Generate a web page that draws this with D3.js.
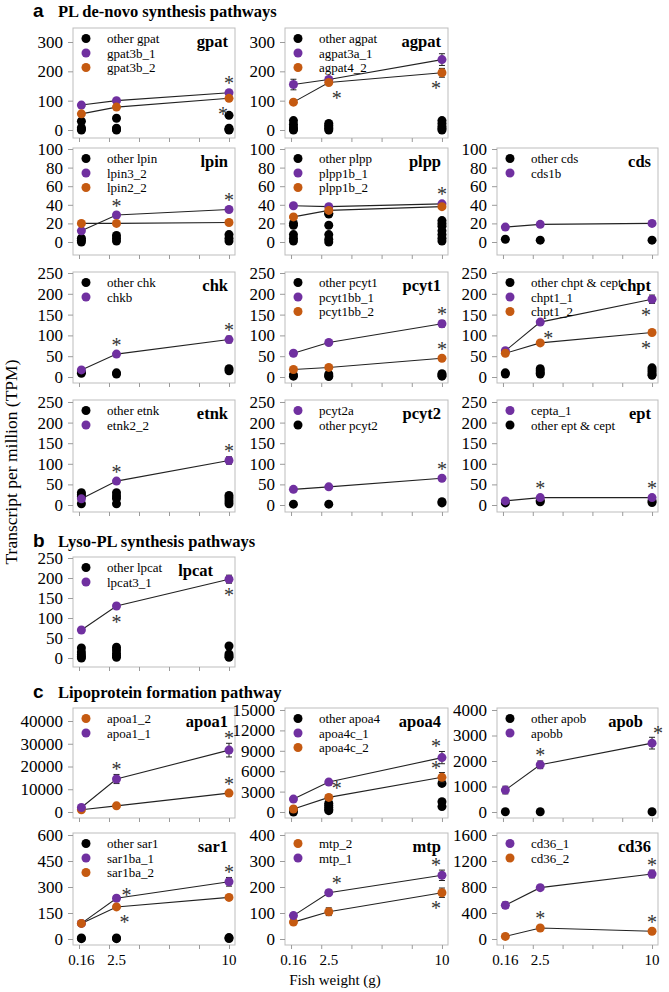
<!DOCTYPE html>
<html><head><meta charset="utf-8">
<script src="https://cdn.jsdelivr.net/npm/d3@7"></script>
<style>body{margin:0;background:#fff}svg{display:block}</style>
</head><body><svg id="c" width="669" height="992"></svg>
<script>
// ---------------- DATA ----------------
const weights = [0.16, 2.5, 10];
const xTickLabels = ["0.16", "2.5", "10"];

// gpat
const other_gpat = [[30, 8, 3, 0], [40, 6, 2, 0], [50, 6, 2, 0]];
const gpat3b_1 = [85, 100, 127], gpat3b_1_err = [6, 4, 6];
const gpat3b_2 = [55, 78, 108], gpat3b_2_err = [4, 4, 5];
// agpat
const other_agpat = [[32, 20, 10, 3, 0], [22, 16, 10, 5, 0], [32, 22, 12, 5, 0]];
const agpat3a_1 = [155, 172, 240], agpat3a_1_err = [18, 6, 20];
const agpat4_2 = [95, 162, 195], agpat4_2_err = [8, 6, 15];
// lpin
const other_lpin = [[4, 2, 0], [7, 4, 1], [8, 4, 1]];
const lpin3_2 = [12, 29, 35], lpin3_2_err = [1, 1, 1];
const lpin2_2 = [20, 20, 21], lpin2_2_err = [1, 1, 1];
// plpp
const other_plpp = [[20, 18, 8, 4, 1], [31, 30, 18, 8, 3, 0], [23, 20, 17, 12, 8, 4, 1]];
const plpp1b_1 = [39, 38, 41], plpp1b_1_err = [1, 1, 1];
const plpp1b_2 = [27, 34, 38], plpp1b_2_err = [1, 3, 1];
// cds
const other_cds = [[3], [2], [2]];
const cds1b = [16, 19, 20], cds1b_err = [1, 1, 1];
// chk
const other_chk = [[12, 9], [10, 7], [20, 15]];
const chkb = [17, 55, 90], chkb_err = [2, 3, 8];
// pcyt1
const other_pcyt1 = [[5, 2], [7, 3, 1], [8, 5, 2]];
const pcyt1bb_1 = [57, 83, 128], pcyt1bb_1_err = [6, 4, 8];
const pcyt1bb_2 = [18, 23, 45], pcyt1bb_2_err = [2, 2, 3];
// chpt
const other_chpt = [[10, 7], [20, 15, 10, 7], [22, 17, 12, 7, 4]];
const chpt1_1 = [63, 132, 187], chpt1_1_err = [4, 5, 10];
const chpt1_2 = [57, 82, 107], chpt1_2_err = [3, 3, 4];
// etnk
const other_etnk = [[30, 25, 20, 3], [30, 22, 16, 3], [23, 17, 10, 3]];
const etnk2_2 = [15, 58, 108], etnk2_2_err = [2, 3, 9];
// pcyt2
const pcyt2a = [38, 44, 65], pcyt2a_err = [2, 2, 3];
const other_pcyt2 = [[2], [2], [5, 8]];
// ept
const cepta_1 = [10, 18, 18], cepta_1_err = [1, 2, 2];
const other_ept = [[5], [8, 11], [6, 10]];
// lpcat
const other_lpcat = [[25, 15, 8, 3, 0], [27, 20, 12, 6, 2], [30, 10, 5, 2]];
const lpcat3_1 = [70, 130, 197], lpcat3_1_err = [4, 4, 10];
// apoa1
const apoa1_2 = [1000, 2700, 8300], apoa1_2_err = [200, 300, 700];
const apoa1_1 = [2000, 14500, 27200], apoa1_1_err = [300, 2000, 3000];
// apoa4
const other_apoa4 = [[300, 0], [1300, 1000, 700, 400, 200], [4200, 1500, 800]];
const apoa4c_1 = [1900, 4400, 8000], apoa4c_1_err = [150, 400, 900];
const apoa4c_2 = [440, 2150, 5100], apoa4c_2_err = [80, 400, 700];
// apob
const other_apob = [[10], [10], [10]];
const apobb = [860, 1850, 2700], apobb_err = [150, 150, 230];
// sar1
const other_sar1 = [[6, 2], [6, 2], [8, 3]];
const sar1ba_1 = [90, 235, 330], sar1ba_1_err = [5, 15, 25];
const sar1ba_2 = [90, 185, 240], sar1ba_2_err = [5, 10, 10];
// mtp
const mtp_2 = [65, 105, 178], mtp_2_err = [5, 15, 18];
const mtp_1 = [90, 178, 245], mtp_1_err = [10, 10, 20];
// cd36
const cd36_1 = [520, 790, 1000], cd36_1_err = [50, 20, 60];
const cd36_2 = [40, 170, 120], cd36_2_err = [5, 15, 10];

// y tick values per panel
const ticks300 = [0, 100, 200, 300];
const ticks100 = [0, 20, 40, 60, 80, 100];
const ticks250 = [0, 50, 100, 150, 200, 250];
const ticksApoa1 = [0, 10000, 20000, 30000, 40000];
const ticksApoa4 = [0, 3000, 6000, 9000, 12000, 15000];
const ticksApob = [0, 1000, 2000, 3000, 4000];
const ticksSar1 = [0, 150, 300, 450, 600];
const ticksMtp = [0, 100, 200, 300, 400];
const ticksCd36 = [0, 400, 800, 1200, 1600];

// ---------------- LAYOUT ----------------
const PURPLE = "#7030a0", ORANGE = "#c55a11", BLACK = "#000";
const SERIF = "'Liberation Serif','Times New Roman',serif";
const SANS = "'Liberation Sans',Arial,sans-serif";
const cols = [[73, 235], [285, 448], [497, 658]];
const rows = {
  r1: {top: 28, bottom: 138, y0: 130, y1: 42},
  r2: {top: 148, bottom: 255, y0: 242, y1: 149},
  r3: {top: 272, bottom: 383, y0: 377, y1: 273},
  r4: {top: 400, bottom: 512, y0: 505, y1: 402},
  rb: {top: 557, bottom: 667, y0: 658, y1: 558},
  c1: {top: 708, bottom: 818, y0: 812, y1: 710},
  c2: {top: 833, bottom: 945, y0: 939, y1: 835}
};

const O = (label, vals) => ({label, color: BLACK, others: vals});
const S = (label, color, vals, err) => ({label, color, vals, err});

const panels = [
  {title: "gpat", col: 0, row: "r1", ticks: ticks300,
   legend: [O("other gpat", other_gpat), S("gpat3b_1", PURPLE, gpat3b_1, gpat3b_1_err), S("gpat3b_2", ORANGE, gpat3b_2, gpat3b_2_err)],
   stars: [[1, 2, "a"], [2, 2, "bl"]]},
  {title: "agpat", col: 1, row: "r1", ticks: ticks300,
   legend: [O("other agpat", other_agpat), S("agpat3a_1", PURPLE, agpat3a_1, agpat3a_1_err), S("agpat4_2", ORANGE, agpat4_2, agpat4_2_err)],
   stars: [[2, 1, "br"], [2, 2, "bl"]]},
  {title: "lpin", col: 0, row: "r2", ticks: ticks100,
   legend: [O("other lpin", other_lpin), S("lpin3_2", PURPLE, lpin3_2, lpin3_2_err), S("lpin2_2", ORANGE, lpin2_2, lpin2_2_err)],
   stars: [[1, 1, "a"], [1, 2, "a"]]},
  {title: "plpp", col: 1, row: "r2", ticks: ticks100,
   legend: [O("other plpp", other_plpp), S("plpp1b_1", PURPLE, plpp1b_1, plpp1b_1_err), S("plpp1b_2", ORANGE, plpp1b_2, plpp1b_2_err)],
   stars: [[1, 2, "a"]]},
  {title: "cds", col: 2, row: "r2", ticks: ticks100,
   legend: [O("other cds", other_cds), S("cds1b", PURPLE, cds1b, cds1b_err)],
   stars: []},
  {title: "chk", col: 0, row: "r3", ticks: ticks250,
   legend: [O("other chk", other_chk), S("chkb", PURPLE, chkb, chkb_err)],
   stars: [[1, 1, "a"], [1, 2, "a"]]},
  {title: "pcyt1", col: 1, row: "r3", ticks: ticks250,
   legend: [O("other pcyt1", other_pcyt1), S("pcyt1bb_1", PURPLE, pcyt1bb_1, pcyt1bb_1_err), S("pcyt1bb_2", ORANGE, pcyt1bb_2, pcyt1bb_2_err)],
   stars: [[1, 2, "a"], [2, 2, "a"]]},
  {title: "chpt", col: 2, row: "r3", ticks: ticks250,
   legend: [O("other chpt & cept", other_chpt), S("chpt1_1", PURPLE, chpt1_1, chpt1_1_err), S("chpt1_2", ORANGE, chpt1_2, chpt1_2_err)],
   stars: [[1, 1, "br"], [1, 2, "bl"], [2, 2, "bl"]]},
  {title: "etnk", col: 0, row: "r4", ticks: ticks250,
   legend: [O("other etnk", other_etnk), S("etnk2_2", PURPLE, etnk2_2, etnk2_2_err)],
   stars: [[1, 1, "a"], [1, 2, "a"]]},
  {title: "pcyt2", col: 1, row: "r4", ticks: ticks250,
   legend: [S("pcyt2a", PURPLE, pcyt2a, pcyt2a_err), O("other pcyt2", other_pcyt2)],
   stars: [[0, 2, "a"]]},
  {title: "ept", col: 2, row: "r4", ticks: ticks250,
   legend: [S("cepta_1", PURPLE, cepta_1, cepta_1_err), O("other ept & cept", other_ept)],
   stars: [[0, 1, "a"], [0, 2, "a"]]},
  {title: "lpcat", col: 0, row: "rb", ticks: ticks250, titleDx: -15,
   legend: [O("other lpcat", other_lpcat), S("lpcat3_1", PURPLE, lpcat3_1, lpcat3_1_err)],
   stars: [[1, 1, "b"], [1, 2, "b"]]},
  {title: "apoa1", col: 0, row: "c1", ticks: ticksApoa1, y1: 721,
   legend: [S("apoa1_2", ORANGE, apoa1_2, apoa1_2_err), S("apoa1_1", PURPLE, apoa1_1, apoa1_1_err)],
   stars: [[1, 1, "a"], [1, 2, "a"], [0, 2, "a"]]},
  {title: "apoa4", col: 1, row: "c1", ticks: ticksApoa4,
   legend: [O("other apoa4", other_apoa4), S("apoa4c_1", PURPLE, apoa4c_1, apoa4c_1_err), S("apoa4c_2", ORANGE, apoa4c_2, apoa4c_2_err)],
   stars: [[2, 1, "ar"], [1, 2, "al"], [2, 2, "al"]]},
  {title: "apob", col: 2, row: "c1", ticks: ticksApob, titleDx: -8,
   legend: [O("other apob", other_apob), S("apobb", PURPLE, apobb, apobb_err)],
   stars: [[1, 1, "a"], [1, 2, "t"]]},
  {title: "sar1", col: 0, row: "c2", ticks: ticksSar1,
   legend: [O("other sar1", other_sar1), S("sar1ba_1", PURPLE, sar1ba_1, sar1ba_1_err), S("sar1ba_2", ORANGE, sar1ba_2, sar1ba_2_err)],
   stars: [[1, 1, "r"], [1, 2, "a"], [2, 1, "br"]]},
  {title: "mtp", col: 1, row: "c2", ticks: ticksMtp,
   legend: [S("mtp_2", ORANGE, mtp_2, mtp_2_err), S("mtp_1", PURPLE, mtp_1, mtp_1_err)],
   stars: [[1, 1, "ar"], [1, 2, "al"], [0, 2, "bl"]]},
  {title: "cd36", col: 2, row: "c2", ticks: ticksCd36,
   legend: [S("cd36_1", PURPLE, cd36_1, cd36_1_err), S("cd36_2", ORANGE, cd36_2, cd36_2_err)],
   stars: [[0, 2, "a"], [1, 1, "a"], [1, 2, "a"]]}
];

// ---------------- DRAW ----------------
const svg = d3.select("#c");
const R = 4.5;

// section titles
const sections = [
  {letter: "a", text: "PL de-novo synthesis pathways", y: 17},
  {letter: "b", text: "Lyso-PL synthesis pathways", y: 547},
  {letter: "c", text: "Lipoprotein formation pathway", y: 698}
];
sections.forEach(s => {
  svg.append("text").attr("x", 33).attr("y", s.y).attr("font-family", SANS).attr("font-weight", "bold")
    .attr("font-size", 19).text(s.letter);
  svg.append("text").attr("x", 58).attr("y", s.y).attr("font-family", SERIF).attr("font-weight", "bold")
    .attr("font-size", 16.5).text(s.text);
});

// y label
svg.append("text").attr("transform", "translate(17,462) rotate(-90)").attr("text-anchor", "middle")
  .attr("font-family", SERIF).attr("font-size", 17.5).text("Transcript per million (TPM)");

panels.forEach(p => {
  const [xl, xr] = cols[p.col];
  const r = rows[p.row];
  const x = d3.scaleLinear().domain([-0.4, 10.4]).range([xl, xr]);
  const y = d3.scaleLinear().domain([0, p.ticks[p.ticks.length - 1]]).range([r.y0, p.y1 || r.y1]);
  const g = svg.append("g");

  g.append("rect").attr("x", xl).attr("y", r.top).attr("width", xr - xl).attr("height", r.bottom - r.top)
    .attr("fill", "none").attr("stroke", "#bdbdbd").attr("stroke-width", 1);

  const ya = g.append("g").attr("transform", `translate(${xl},0)`)
    .call(d3.axisLeft(y).tickValues(p.ticks).tickSize(5).tickPadding(5).tickFormat(d3.format("d")));
  ya.select(".domain").remove();
  ya.selectAll("line").attr("stroke", "#9a9a9a");
  ya.selectAll("text").attr("font-family", SERIF).attr("font-size", 17).attr("fill", "#000");

  const xa = g.append("g").attr("transform", `translate(0,${r.bottom})`)
    .call(d3.axisBottom(x).tickValues([0, 2, 4, 6, 8, 10]).tickSize(4).tickFormat(""));
  xa.select(".domain").remove();
  xa.selectAll("line").attr("stroke", "#9a9a9a");

  if (p.row === "c2") {
    g.append("g").selectAll("text").data(weights).join("text")
      .attr("x", d => x(d)).attr("y", r.bottom + 20).attr("text-anchor", "middle")
      .attr("font-family", SERIF).attr("font-size", 15).text((d, i) => xTickLabels[i]);
  }

  // other genes (black points)
  p.legend.filter(s => s.others).forEach(s => {
    const pts = [];
    s.others.forEach((arr, i) => arr.forEach(v => pts.push([weights[i], v])));
    g.append("g").selectAll("circle").data(pts).join("circle")
      .attr("cx", d => x(d[0])).attr("cy", d => y(d[1])).attr("r", R).attr("fill", BLACK);
  });

  const series = p.legend.filter(s => s.vals);
  const line = d3.line().x((d, i) => x(weights[i])).y(d => y(d));
  series.forEach(s => {
    g.append("path").attr("d", line(s.vals)).attr("fill", "none").attr("stroke", "#222").attr("stroke-width", 1.1);
  });
  series.forEach(s => {
    s.vals.forEach((v, i) => {
      const cx = x(weights[i]), e = s.err[i];
      const yt = y(v + e), yb = y(v - e);
      g.append("line").attr("x1", cx).attr("x2", cx).attr("y1", yt).attr("y2", yb).attr("stroke", "#222");
      g.append("line").attr("x1", cx - 3).attr("x2", cx + 3).attr("y1", yt).attr("y2", yt).attr("stroke", "#222");
      g.append("line").attr("x1", cx - 3).attr("x2", cx + 3).attr("y1", yb).attr("y2", yb).attr("stroke", "#222");
    });
    g.append("g").selectAll("circle").data(s.vals).join("circle")
      .attr("cx", (d, i) => x(weights[i])).attr("cy", d => y(d)).attr("r", R).attr("fill", s.color);
  });

  // stars
  p.stars.forEach(([si, wi, pos]) => {
    const s = p.legend[si];
    const cx = x(weights[wi]), v = s.vals[wi], e = s.err[wi];
    let sx = cx, sy;
    const top = Math.min(y(v + e), y(v) - R), bot = Math.max(y(v - e), y(v) + R);
    if (pos === "r") { sx = cx + 10; sy = y(v) - 5; }
    else if (pos[0] === "a") sy = top - 7;
    else if (pos[0] === "b") sy = bot + 9;
    else { sx = cx + 6; sy = top - 6; }
    if (pos === "br" || pos === "ar") sx = cx + 8;
    if (pos === "al" || pos === "bl") sx = cx - 6;
    g.append("text").attr("x", sx).attr("y", sy + 9).attr("text-anchor", "middle")
      .attr("font-family", SERIF).attr("font-size", 20).attr("fill", "#333").text("*");
  });

  // legend
  p.legend.forEach((s, i) => {
    const ly = r.top + 10.5 + i * 14.5;
    g.append("circle").attr("cx", xl + 13).attr("cy", ly).attr("r", R).attr("fill", s.color);
    g.append("text").attr("x", xl + 34).attr("y", ly + 4.5).attr("font-family", SERIF).attr("font-size", 13)
      .text(s.label);
  });

  // title
  g.append("text").attr("x", xr - 7 + (p.titleDx || 0)).attr("y", r.top + 19).attr("text-anchor", "end")
    .attr("font-family", SERIF).attr("font-weight", "bold").attr("font-size", 16.5).text(p.title);
});

svg.append("text").attr("x", 335).attr("y", 985).attr("text-anchor", "middle")
  .attr("font-family", SERIF).attr("font-size", 15).text("Fish weight (g)");
</script>
</body></html>
